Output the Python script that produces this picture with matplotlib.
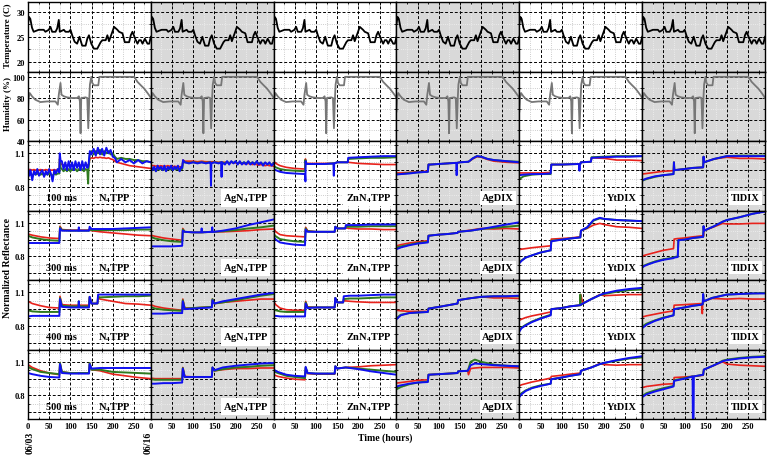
import matplotlib
matplotlib.use("Agg")
import matplotlib.pyplot as plt
from matplotlib.ticker import MultipleLocator, FixedLocator, FuncFormatter

plt.rcParams['font.family'] = ['Liberation Serif', 'DejaVu Serif']
plt.rcParams['font.weight'] = 'bold'
plt.rcParams['mathtext.fontset'] = 'custom'
plt.rcParams['mathtext.rm'] = 'Liberation Serif:bold'
plt.rcParams['mathtext.default'] = 'rm'

samples = ['N$_4$TPP', 'AgN$_4$TPP', 'ZnN$_4$TPP', 'AgDIX', 'YtDIX', 'TlDIX']
exposures = ['100 ms', '300 ms', '400 ms', '500 ms']

# environment (same for every sample)
temp_t = [0, 2.4, 5.5, 9.5, 13.4, 25.3, 37.2, 41.1, 49, 53, 57, 65, 69, 72.7, 75, 84.6, 88.5,
          96.4, 100.4, 104.3, 110, 116, 121.7, 124, 128, 136, 140, 143.9, 149.4, 155.7, 163.6,
          171.5, 175.5, 183.4, 187.4, 191.3, 199.2, 203.2, 211, 215, 223, 228.5, 238.7, 242.7,
          246.6, 254.5, 258.5, 262.5, 266.4, 270.4, 275.9, 282.2, 286.2, 290]
temp_c = [27.6, 29.0, 28.6, 26.8, 26.0, 26.4, 26.4, 26.0, 26.4, 27.0, 26.0, 26.0, 26.7, 28.4, 26.0,
          26.4, 26.0, 26.0, 26.4, 25.3, 24.0, 23.6, 25.0, 24.3, 23.2, 23.2, 24.6, 25.3, 23.6, 22.6,
          22.6, 23.9, 24.3, 24.3, 25.3, 24.1, 26.0, 27.0, 26.4, 26.0, 25.7, 23.9, 23.9, 25.3, 26.0,
          24.3, 23.6, 24.3, 24.3, 23.6, 24.6, 23.6, 23.6, 25.0]
hum_t = [0, 1.6, 4, 9.5, 17.4, 29.2, 45, 64.8, 70.4, 72.7, 76.7, 79, 84.6, 92.5, 104.3, 116.2,
         120.2, 122.5, 124.1, 125.7, 136, 140, 142.3, 144.7, 146.2, 149.4, 151.8, 155.7, 166,
         168.4, 250.6, 258.5, 266.4, 274.3, 282.2, 287.7, 290]
hum_pct = [67.6, 80.2, 84.9, 81.8, 78.6, 76.4, 77, 77, 73.9, 83.3, 94.3, 83.3, 81.8, 80.8, 80.2,
           80.2, 81.8, 77, 47.2, 80.2, 80.8, 80.2, 51.9, 80.2, 92.8, 100, 94.3, 92.1, 92.1, 100,
           100, 95.3, 92.1, 89, 84.9, 81.8, 80.2]

# ---- N4TPP ----
t_n4tpp_100 = [0, 3, 6, 10, 14, 18, 22, 26, 30, 34, 38, 42, 46, 50, 54, 58, 62, 66, 70, 74,
               75, 77,
               80, 84, 88, 92, 96, 100, 104, 108, 112, 116, 120, 124, 128, 132, 136, 140,
               142, 143,
               146, 150, 155, 160, 165, 170, 175, 180, 185, 190, 195, 200,
               205, 210, 220, 230, 240, 250, 260, 270, 280, 290]
r_n4tpp_100 = [0.96, 0.955, 0.955, 0.95, 0.955, 0.95, 0.955, 0.95, 0.955, 0.95, 0.95, 0.955, 0.95, 0.955, 0.95, 0.95, 0.955, 0.95, 0.95, 0.95,
               1.08, 1.01,
               1.0, 0.995, 1.0, 0.99, 1.0, 0.995, 1.0, 0.99, 0.995, 1.0, 0.99, 0.995, 1.0, 0.99, 0.995, 0.99,
               1.0, 1.0,
               1.05, 1.06, 1.055, 1.065, 1.06, 1.065, 1.06, 1.06, 1.055, 1.06, 1.05, 1.045,
               1.03, 1.02, 1.01, 1.0, 0.99, 0.985, 0.98, 0.975, 0.97, 0.965]
g_n4tpp_100 = [0.92, 0.91, 0.92, 0.90, 0.92, 0.91, 0.92, 0.91, 0.91, 0.92, 0.90, 0.92, 0.91, 0.92, 0.91, 0.90, 0.92, 0.91, 0.92, 0.92,
               1.05, 0.97,
               0.96, 0.94, 0.96, 0.94, 0.96, 0.94, 0.96, 0.95, 0.96, 0.94, 0.96, 0.95, 0.96, 0.94, 0.96, 0.95,
               0.83, 0.96,
               1.10, 1.12, 1.09, 1.12, 1.10, 1.13, 1.09, 1.12, 1.10, 1.12, 1.09, 1.10,
               1.07, 1.05, 1.06, 1.05, 1.05, 1.04, 1.04, 1.03, 1.03, 1.02]
b_n4tpp_100 = [0.96, 0.90, 0.95, 0.86, 0.94, 0.91, 0.96, 0.90, 0.93, 0.95, 0.89, 0.94, 0.91, 0.96, 0.92, 0.85, 0.95, 0.92, 0.96, 0.93,
               1.10, 1.03,
               1.03, 0.96, 1.02, 0.95, 1.03, 0.96, 1.02, 0.95, 1.03, 0.97, 1.02, 0.95, 1.03, 0.96, 1.02, 0.97,
               0.98, 1.0,
               1.12, 1.09, 1.14, 1.08, 1.15, 1.09, 1.14, 1.08, 1.15, 1.10, 1.13, 1.07,
               1.06, 1.02, 1.05, 1.02, 1.04, 1.01, 1.04, 1.01, 1.03, 1.02]

t_n4tpp_300 = [0, 10, 30, 50, 74, 75.5, 80, 100, 119, 120, 121, 144, 145.5, 150, 170, 200, 230, 260, 290]
r_n4tpp_300 = [1.0, 0.99, 0.975, 0.965, 0.96, 1.07, 1.04, 1.035, 1.035, 1.035, 1.035, 1.035, 1.04, 1.03, 1.02, 1.01, 1.0, 0.99, 0.985]
g_n4tpp_300 = [0.985, 0.97, 0.955, 0.945, 0.94, 1.06, 1.035, 1.03, 1.03, 1.03, 1.03, 1.03, 1.045, 1.035, 1.035, 1.035, 1.035, 1.04, 1.04]
b_n4tpp_300 = [0.92, 0.92, 0.92, 0.92, 0.92, 1.05, 1.03, 1.03, 1.03, 1.06, 1.03, 1.03, 1.065, 1.045, 1.045, 1.045, 1.05, 1.055, 1.06]

t_n4tpp_400 = [0, 10, 30, 50, 74, 75.5, 80, 100, 119, 120, 121, 144, 145.5, 150, 164, 165.5, 170, 200, 230, 260, 290]
r_n4tpp_400 = [1.02, 1.0, 0.98, 0.965, 0.96, 1.065, 0.99, 0.985, 0.985, 0.985, 0.985, 0.985, 1.06, 1.0, 1.0, 1.05, 1.04, 1.02, 1.0, 0.995, 0.985]
g_n4tpp_400 = [0.94, 0.93, 0.925, 0.925, 0.925, 1.05, 0.98, 0.975, 0.975, 1.02, 0.975, 0.975, 1.06, 1.0, 1.0, 1.06, 1.055, 1.06, 1.065, 1.065, 1.07]
b_n4tpp_400 = [0.885, 0.89, 0.89, 0.89, 0.89, 1.04, 0.97, 0.965, 0.965, 1.02, 0.965, 0.965, 1.06, 1.0, 1.0, 1.08, 1.08, 1.08, 1.08, 1.08, 1.08]

t_n4tpp_500 = [0, 10, 30, 50, 74, 75.5, 80, 100, 119, 120, 121, 144, 145.5, 150, 170, 200, 230, 260, 290]
r_n4tpp_500 = [1.075, 1.05, 1.02, 1.0, 0.985, 1.09, 1.01, 1.0, 1.0, 1.0, 1.0, 1.0, 1.09, 1.03, 1.02, 0.99, 0.975, 0.96, 0.95]
g_n4tpp_500 = [1.055, 1.035, 1.01, 1.0, 0.99, 1.09, 1.01, 1.0, 1.0, 1.0, 1.0, 1.0, 1.09, 1.03, 1.03, 1.01, 1.005, 1.0, 0.995]
b_n4tpp_500 = [1.0, 0.99, 0.975, 0.965, 0.96, 1.08, 1.0, 0.995, 0.995, 1.0, 0.995, 0.995, 1.08, 1.04, 1.045, 1.045, 1.045, 1.045, 1.045]

# ---- AgN4TPP ----
t_agn4tpp_100 = [0, 4, 8, 12, 16, 20, 24, 28, 32, 36, 40, 44, 48, 52, 56, 60, 64, 68, 72, 74,
                 76, 80,
                 90, 100, 110, 120, 130, 140, 141, 142, 143, 150, 160, 166, 167, 168,
                 175, 180, 185, 190, 195, 200, 205, 210, 215, 220, 225, 230, 235, 240, 245, 250,
                 255, 260, 265, 270, 275, 280, 285, 290]
r_agn4tpp_100 = [0.995, 0.99, 0.99, 0.985, 0.99, 0.985, 0.99, 0.985, 0.985, 0.985, 0.99, 0.985, 0.985, 0.98, 0.985, 0.98, 0.985, 0.98, 0.98, 0.98,
                 1.04, 1.03,
                 1.03, 1.03, 1.025, 1.03, 1.025, 1.025, 1.025, 1.025, 1.025, 1.025, 1.02, 1.02, 1.02, 1.02,
                 1.02, 1.02, 1.015, 1.02, 1.015, 1.015, 1.01, 1.015, 1.01, 1.01, 1.005, 1.01, 1.005, 1.0, 1.005, 1.0,
                 0.995, 1.0, 0.995, 0.99, 0.995, 0.99, 0.99, 0.985]
g_agn4tpp_100 = [0.96, 0.95, 0.965, 0.94, 0.96, 0.955, 0.965, 0.95, 0.96, 0.945, 0.965, 0.955, 0.96, 0.95, 0.965, 0.955, 0.96, 0.945, 0.96, 0.96,
                 1.03, 1.02,
                 1.015, 1.02, 1.015, 1.02, 1.015, 1.02, 1.015, 1.015, 1.015, 1.02, 1.015, 1.02, 1.015, 1.02,
                 1.01, 1.025, 1.01, 1.025, 1.015, 1.025, 1.01, 1.02, 1.01, 1.02, 1.01, 1.025, 1.01, 1.02, 1.01, 1.02,
                 1.01, 1.015, 1.005, 1.015, 1.005, 1.01, 1.0, 1.005]
b_agn4tpp_100 = [0.99, 0.95, 0.98, 0.94, 0.99, 0.96, 0.98, 0.95, 0.99, 0.94, 0.98, 0.96, 0.99, 0.95, 0.98, 0.96, 0.99, 0.94, 0.98, 0.97,
                 1.04, 1.02,
                 1.01, 1.02, 1.01, 1.02, 1.01, 1.02, 1.01, 0.81, 1.01, 1.02, 1.01, 1.02, 0.89, 1.02,
                 1.00, 1.03, 1.00, 1.03, 1.01, 1.03, 1.00, 1.03, 1.00, 1.02, 1.00, 1.03, 1.00, 1.02, 1.00, 1.03,
                 1.00, 1.02, 0.99, 1.02, 1.00, 1.02, 0.99, 1.01]

t_agn4tpp_300 = [0, 10, 30, 50, 74, 75.5, 80, 100, 119, 120, 121, 144, 145, 146, 150, 170, 200, 230, 260, 290]
r_agn4tpp_300 = [0.99, 0.98, 0.965, 0.955, 0.945, 1.05, 1.02, 1.015, 1.015, 1.015, 1.015, 1.02, 1.02, 1.02, 1.02, 1.02, 1.025, 1.03, 1.04, 1.045]
g_agn4tpp_300 = [0.975, 0.96, 0.945, 0.935, 0.93, 1.04, 1.02, 1.015, 1.015, 1.015, 1.015, 1.02, 1.02, 1.02, 1.02, 1.025, 1.035, 1.05, 1.06, 1.075]
b_agn4tpp_300 = [0.89, 0.89, 0.89, 0.89, 0.895, 1.03, 1.02, 1.015, 1.015, 1.05, 1.015, 1.02, 1.06, 1.02, 1.02, 1.03, 1.05, 1.08, 1.105, 1.13]

t_agn4tpp_400 = [0, 10, 30, 50, 74, 75.5, 80, 100, 120, 144, 145.5, 150, 170, 200, 230, 260, 290]
r_agn4tpp_400 = [0.99, 0.975, 0.96, 0.95, 0.94, 1.04, 0.96, 0.96, 0.965, 0.97, 1.04, 1.0, 1.01, 1.02, 1.03, 1.04, 1.04]
g_agn4tpp_400 = [0.97, 0.955, 0.945, 0.94, 0.935, 1.03, 0.955, 0.96, 0.965, 0.97, 1.04, 1.0, 1.01, 1.03, 1.05, 1.07, 1.085]
b_agn4tpp_400 = [0.91, 0.91, 0.91, 0.915, 0.915, 1.02, 0.95, 0.955, 0.96, 0.965, 1.03, 1.0, 1.02, 1.04, 1.06, 1.08, 1.095]

t_agn4tpp_500 = [0, 10, 30, 50, 74, 75.5, 80, 100, 120, 144, 145.5, 150, 170, 200, 230, 260, 290]
r_agn4tpp_500 = [0.955, 0.95, 0.95, 0.95, 0.95, 1.05, 0.97, 0.965, 0.965, 0.965, 1.05, 1.02, 1.03, 1.04, 1.04, 1.045, 1.045]
g_agn4tpp_500 = [0.945, 0.94, 0.94, 0.94, 0.94, 1.045, 0.965, 0.965, 0.965, 0.965, 1.05, 1.02, 1.035, 1.05, 1.055, 1.065, 1.07]
b_agn4tpp_500 = [0.905, 0.905, 0.91, 0.91, 0.915, 1.04, 0.965, 0.965, 0.965, 0.965, 1.05, 1.025, 1.05, 1.065, 1.075, 1.085, 1.09]

# ---- ZnN4TPP ----
t_znn4tpp_100 = [0, 5, 15, 30, 50, 74, 75, 75.5, 76, 80, 100, 120, 141, 142, 143, 150, 170, 175, 176, 200, 230, 260, 290]
r_znn4tpp_100 = [1.03, 1.01, 0.99, 0.975, 0.965, 0.96, 1.05, 1.03, 1.015, 1.01, 1.01, 1.01, 1.01, 1.01, 1.01, 1.02, 1.02, 1.02, 1.02, 1.01, 1.005, 1.0, 1.0]
g_znn4tpp_100 = [0.99, 0.975, 0.96, 0.95, 0.945, 0.94, 1.04, 1.02, 1.01, 1.005, 1.005, 1.005, 1.01, 1.01, 1.01, 1.02, 1.02, 1.02, 1.05, 1.055, 1.06, 1.06, 1.065]
b_znn4tpp_100 = [0.96, 0.95, 0.935, 0.925, 0.92, 0.915, 0.85, 1.03, 1.01, 1.005, 1.005, 1.005, 1.01, 0.90, 1.01, 1.02, 1.02, 1.02, 1.06, 1.065, 1.07, 1.075, 1.075]

t_znn4tpp_300 = [0, 5, 15, 30, 50, 74, 75.5, 80, 100, 120, 144, 145.5, 150, 169, 170.5, 180, 200, 230, 260, 290]
r_znn4tpp_300 = [1.05, 1.02, 0.995, 0.985, 0.98, 0.975, 1.06, 1.03, 1.02, 1.02, 1.02, 1.065, 1.05, 1.05, 1.055, 1.05, 1.045, 1.045, 1.04, 1.04]
g_znn4tpp_300 = [1.0, 0.98, 0.955, 0.945, 0.935, 0.93, 1.05, 1.025, 1.02, 1.02, 1.02, 1.065, 1.05, 1.05, 1.065, 1.065, 1.065, 1.07, 1.07, 1.07]
b_znn4tpp_300 = [0.975, 0.95, 0.925, 0.915, 0.905, 0.90, 1.04, 1.02, 1.02, 1.02, 1.02, 1.065, 1.05, 1.05, 1.08, 1.08, 1.08, 1.085, 1.085, 1.085]

t_znn4tpp_400 = [0, 5, 15, 30, 50, 74, 75.5, 80, 100, 120, 144, 145.5, 150, 164, 165.5, 180, 200, 230, 260, 290]
r_znn4tpp_400 = [1.02, 0.99, 0.96, 0.945, 0.94, 0.94, 1.02, 0.97, 0.965, 0.965, 0.965, 1.05, 1.01, 1.01, 1.025, 1.02, 1.015, 1.01, 1.01, 1.01]
g_znn4tpp_400 = [0.95, 0.94, 0.93, 0.925, 0.925, 0.925, 1.01, 0.965, 0.965, 0.965, 0.965, 1.05, 1.01, 1.01, 1.04, 1.045, 1.045, 1.05, 1.055, 1.055]
b_znn4tpp_400 = [0.89, 0.89, 0.885, 0.885, 0.885, 0.885, 1.0, 0.96, 0.965, 0.965, 0.965, 1.05, 1.01, 1.01, 1.065, 1.07, 1.07, 1.075, 1.08, 1.08]

t_znn4tpp_500 = [0, 10, 30, 50, 74, 75.5, 80, 100, 120, 144, 145.5, 150, 170, 200, 230, 260, 290]
r_znn4tpp_500 = [0.985, 0.97, 0.955, 0.945, 0.94, 1.045, 0.995, 0.99, 0.99, 0.99, 1.06, 1.04, 1.05, 1.055, 1.065, 1.07, 1.075]
g_znn4tpp_500 = [1.015, 1.0, 0.975, 0.965, 0.955, 1.05, 1.0, 0.995, 0.995, 0.995, 1.06, 1.04, 1.05, 1.04, 1.03, 1.02, 1.01]
b_znn4tpp_500 = [1.03, 1.01, 0.985, 0.975, 0.97, 1.055, 1.0, 0.995, 0.995, 0.995, 1.06, 1.04, 1.05, 1.035, 1.015, 1.0, 0.985]

# ---- AgDIX ----
t_agdix_100 = [0, 10, 30, 50, 74, 75.5, 80, 100, 120, 141, 142, 143, 150, 170, 180, 190, 200, 215, 230, 260, 290]
r_agdix_100 = [0.925, 0.925, 0.93, 0.935, 0.94, 1.0, 1.0, 1.005, 1.01, 1.015, 1.015, 1.015, 1.02, 1.025, 1.05, 1.07, 1.065, 1.045, 1.03, 1.02, 1.015]
g_agdix_100 = [0.915, 0.915, 0.925, 0.93, 0.935, 1.0, 1.0, 1.005, 1.01, 1.015, 1.015, 1.015, 1.02, 1.025, 1.055, 1.075, 1.07, 1.05, 1.04, 1.03, 1.025]
b_agdix_100 = [0.91, 0.915, 0.92, 0.93, 0.935, 1.0, 1.0, 1.005, 1.01, 1.015, 0.905, 1.015, 1.02, 1.025, 1.055, 1.075, 1.07, 1.05, 1.04, 1.03, 1.02]

t_agdix_300 = [0, 10, 30, 50, 74, 75.5, 100, 120, 144, 145.5, 175, 200, 230, 260, 290]
r_agdix_300 = [0.895, 0.905, 0.92, 0.93, 0.94, 0.985, 0.995, 1.0, 1.01, 1.02, 1.035, 1.05, 1.045, 1.05, 1.045]
g_agdix_300 = [0.88, 0.89, 0.905, 0.92, 0.93, 0.985, 0.995, 1.0, 1.01, 1.02, 1.03, 1.045, 1.055, 1.065, 1.075]
b_agdix_300 = [0.865, 0.88, 0.9, 0.915, 0.925, 0.985, 0.995, 1.0, 1.01, 1.02, 1.03, 1.045, 1.065, 1.085, 1.105]

t_agdix_400 = [0, 10, 30, 50, 74, 75.5, 100, 144, 145.5, 170, 200, 230, 260, 290]
r_agdix_400 = [0.94, 0.935, 0.93, 0.93, 0.93, 0.955, 0.97, 1.0, 1.03, 1.045, 1.06, 1.05, 1.05, 1.045]
g_agdix_400 = [0.87, 0.9, 0.915, 0.92, 0.925, 0.955, 0.97, 1.0, 1.03, 1.045, 1.06, 1.065, 1.065, 1.065]
b_agdix_400 = [0.86, 0.895, 0.915, 0.92, 0.925, 0.955, 0.97, 1.0, 1.03, 1.045, 1.06, 1.065, 1.065, 1.07]

t_agdix_500 = [0, 10, 30, 50, 74, 75.5, 100, 144, 145.5, 168, 170, 175, 185, 200, 230, 260, 290]
r_agdix_500 = [0.91, 0.915, 0.925, 0.935, 0.94, 0.985, 0.99, 1.0, 1.015, 1.02, 0.985, 1.04, 1.045, 1.05, 1.05, 1.05, 1.045]
g_agdix_500 = [0.855, 0.875, 0.9, 0.915, 0.925, 0.985, 0.99, 1.0, 1.015, 1.02, 1.04, 1.1, 1.12, 1.1, 1.075, 1.065, 1.06]
b_agdix_500 = [0.88, 0.89, 0.905, 0.915, 0.92, 0.985, 0.99, 1.0, 1.015, 1.02, 1.03, 1.07, 1.085, 1.08, 1.07, 1.065, 1.06]

# ---- YtDIX ----
t_ytdix_100 = [0, 10, 30, 50, 74, 75.5, 100, 141, 142, 143, 144, 145.5, 169, 170.5, 200, 230, 260, 290]
r_ytdix_100 = [0.925, 0.925, 0.925, 0.925, 0.93, 1.0, 1.0, 1.005, 1.005, 1.005, 1.005, 1.02, 1.025, 1.06, 1.055, 1.04, 1.04, 1.035]
g_ytdix_100 = [0.87, 0.895, 0.91, 0.915, 0.915, 1.0, 1.0, 1.005, 1.005, 1.005, 1.005, 1.02, 1.025, 1.065, 1.07, 1.075, 1.075, 1.075]
b_ytdix_100 = [0.905, 0.91, 0.915, 0.915, 0.92, 1.0, 1.0, 1.005, 0.945, 1.005, 1.005, 1.02, 1.025, 1.06, 1.065, 1.07, 1.07, 1.075]

t_ytdix_300 = [0, 5, 15, 30, 50, 74, 75.5, 100, 120, 144, 145.5, 160, 175, 190, 200, 230, 260, 290]
r_ytdix_300 = [0.86, 0.865, 0.87, 0.878, 0.886, 0.895, 0.955, 0.96, 0.965, 0.975, 1.03, 1.05, 1.08, 1.095, 1.085, 1.065, 1.06, 1.05]
g_ytdix_300 = [0.745, 0.765, 0.79, 0.81, 0.835, 0.855, 0.94, 0.95, 0.96, 0.97, 1.03, 1.055, 1.12, 1.14, 1.135, 1.125, 1.12, 1.115]
b_ytdix_300 = [0.74, 0.76, 0.79, 0.81, 0.835, 0.855, 0.935, 0.95, 0.96, 0.97, 1.03, 1.06, 1.125, 1.145, 1.135, 1.125, 1.12, 1.115]

t_ytdix_400 = [0, 5, 15, 30, 50, 74, 75.5, 100, 120, 143, 144, 145, 150, 170, 190, 200, 230, 260, 290]
r_ytdix_400 = [0.85, 0.86, 0.875, 0.89, 0.905, 0.925, 0.95, 0.96, 0.975, 0.985, 0.985, 1.08, 1.0, 1.04, 1.08, 1.07, 1.075, 1.08, 1.08]
g_ytdix_400 = [0.76, 0.785, 0.81, 0.84, 0.87, 0.9, 0.95, 0.96, 0.975, 0.985, 1.08, 0.985, 1.0, 1.04, 1.075, 1.085, 1.105, 1.12, 1.125]
b_ytdix_400 = [0.75, 0.78, 0.805, 0.835, 0.865, 0.895, 0.95, 0.96, 0.975, 0.985, 0.985, 0.99, 1.0, 1.04, 1.075, 1.09, 1.115, 1.13, 1.14]

t_ytdix_500 = [0, 5, 15, 30, 50, 74, 75.5, 100, 120, 144, 145.5, 170, 190, 200, 230, 260, 290]
r_ytdix_500 = [0.885, 0.895, 0.905, 0.92, 0.935, 0.955, 0.97, 0.98, 0.99, 1.0, 1.02, 1.05, 1.085, 1.075, 1.07, 1.075, 1.075]
g_ytdix_500 = [0.80, 0.82, 0.845, 0.87, 0.89, 0.905, 0.945, 0.96, 0.975, 0.99, 1.02, 1.05, 1.08, 1.09, 1.11, 1.13, 1.14]
b_ytdix_500 = [0.785, 0.81, 0.84, 0.865, 0.885, 0.905, 0.945, 0.96, 0.975, 0.99, 1.02, 1.05, 1.08, 1.09, 1.115, 1.135, 1.15]

# ---- TlDIX ----
t_tldix_100 = [0, 10, 30, 50, 74, 75, 76, 100, 120, 144, 145, 146, 170, 200, 230, 260, 290]
r_tldix_100 = [0.915, 0.92, 0.93, 0.94, 0.945, 1.02, 0.95, 0.96, 0.97, 0.975, 1.07, 1.02, 1.05, 1.065, 1.055, 1.055, 1.05]
g_tldix_100 = [0.855, 0.87, 0.89, 0.905, 0.915, 1.02, 0.95, 0.96, 0.97, 0.975, 1.07, 1.02, 1.05, 1.075, 1.08, 1.08, 1.08]
b_tldix_100 = [0.86, 0.875, 0.895, 0.905, 0.915, 1.02, 0.95, 0.96, 0.97, 0.975, 1.07, 1.02, 1.05, 1.075, 1.075, 1.075, 1.075]

t_tldix_300 = [0, 5, 15, 30, 50, 74, 75.5, 84, 85.5, 100, 120, 144, 145, 146, 170, 190, 200, 230, 260, 290]
r_tldix_300 = [0.80, 0.81, 0.82, 0.835, 0.855, 0.87, 0.955, 0.96, 0.96, 0.965, 0.975, 0.985, 0.985, 1.03, 1.065, 1.095, 1.09, 1.09, 1.095, 1.095]
g_tldix_300 = [0.705, 0.72, 0.735, 0.755, 0.775, 0.79, 0.795, 0.80, 0.945, 0.95, 0.965, 0.975, 1.07, 1.03, 1.07, 1.11, 1.125, 1.15, 1.18, 1.205]
b_tldix_300 = [0.70, 0.715, 0.73, 0.75, 0.77, 0.785, 0.79, 0.795, 0.945, 0.95, 0.965, 0.975, 1.07, 1.03, 1.07, 1.11, 1.125, 1.15, 1.18, 1.2]

t_tldix_400 = [0, 10, 30, 50, 74, 75.5, 100, 120, 141, 142, 143, 144, 145.5, 165, 200, 230, 260, 290]
r_tldix_400 = [0.88, 0.89, 0.905, 0.92, 0.935, 0.985, 0.99, 0.995, 1.0, 0.91, 1.0, 1.005, 1.02, 1.045, 1.04, 1.045, 1.04, 1.04]
g_tldix_400 = [0.795, 0.82, 0.85, 0.875, 0.895, 0.95, 0.965, 0.98, 0.99, 0.995, 0.995, 1.08, 1.02, 1.05, 1.08, 1.085, 1.09, 1.095]
b_tldix_400 = [0.78, 0.81, 0.845, 0.87, 0.895, 0.95, 0.965, 0.98, 0.99, 0.995, 0.995, 1.085, 1.02, 1.05, 1.08, 1.085, 1.09, 1.09]

t_tldix_500 = [0, 10, 30, 50, 74, 75.5, 100, 119, 120, 121, 122, 144, 145.5, 170, 190, 200, 230, 260, 290]
r_tldix_500 = [0.87, 0.88, 0.89, 0.9, 0.905, 0.96, 0.965, 0.97, 0.97, 0.97, 0.97, 0.98, 1.03, 1.07, 1.1, 1.08, 1.07, 1.065, 1.06]
g_tldix_500 = [0.795, 0.82, 0.845, 0.865, 0.885, 0.935, 0.955, 0.97, 0.97, 0.97, 0.97, 0.985, 1.03, 1.07, 1.11, 1.12, 1.135, 1.145, 1.15]
b_tldix_500 = [0.785, 0.81, 0.835, 0.855, 0.88, 0.93, 0.95, 0.97, 0.4, 0.4, 0.97, 0.985, 1.03, 1.07, 1.105, 1.115, 1.13, 1.14, 1.145]

panels = [
    [(t_n4tpp_100, r_n4tpp_100, g_n4tpp_100, b_n4tpp_100),
     (t_n4tpp_300, r_n4tpp_300, g_n4tpp_300, b_n4tpp_300),
     (t_n4tpp_400, r_n4tpp_400, g_n4tpp_400, b_n4tpp_400),
     (t_n4tpp_500, r_n4tpp_500, g_n4tpp_500, b_n4tpp_500)],
    [(t_agn4tpp_100, r_agn4tpp_100, g_agn4tpp_100, b_agn4tpp_100),
     (t_agn4tpp_300, r_agn4tpp_300, g_agn4tpp_300, b_agn4tpp_300),
     (t_agn4tpp_400, r_agn4tpp_400, g_agn4tpp_400, b_agn4tpp_400),
     (t_agn4tpp_500, r_agn4tpp_500, g_agn4tpp_500, b_agn4tpp_500)],
    [(t_znn4tpp_100, r_znn4tpp_100, g_znn4tpp_100, b_znn4tpp_100),
     (t_znn4tpp_300, r_znn4tpp_300, g_znn4tpp_300, b_znn4tpp_300),
     (t_znn4tpp_400, r_znn4tpp_400, g_znn4tpp_400, b_znn4tpp_400),
     (t_znn4tpp_500, r_znn4tpp_500, g_znn4tpp_500, b_znn4tpp_500)],
    [(t_agdix_100, r_agdix_100, g_agdix_100, b_agdix_100),
     (t_agdix_300, r_agdix_300, g_agdix_300, b_agdix_300),
     (t_agdix_400, r_agdix_400, g_agdix_400, b_agdix_400),
     (t_agdix_500, r_agdix_500, g_agdix_500, b_agdix_500)],
    [(t_ytdix_100, r_ytdix_100, g_ytdix_100, b_ytdix_100),
     (t_ytdix_300, r_ytdix_300, g_ytdix_300, b_ytdix_300),
     (t_ytdix_400, r_ytdix_400, g_ytdix_400, b_ytdix_400),
     (t_ytdix_500, r_ytdix_500, g_ytdix_500, b_ytdix_500)],
    [(t_tldix_100, r_tldix_100, g_tldix_100, b_tldix_100),
     (t_tldix_300, r_tldix_300, g_tldix_300, b_tldix_300),
     (t_tldix_400, r_tldix_400, g_tldix_400, b_tldix_400),
     (t_tldix_500, r_tldix_500, g_tldix_500, b_tldix_500)],
]

W, H = 767, 456
fig, axes = plt.subplots(6, 6, figsize=(W / 100, H / 100), dpi=100)
fig.subplots_adjust(left=28 / W, right=765 / W, top=1 - 3 / H, bottom=1 - 420 / H,
                    wspace=0, hspace=0)

red, green, blue = '#e8221c', '#2f7a1f', '#1010f0'
shade = '#d9d9d9'

for col in range(6):
    for row in range(6):
        ax = axes[row, col]
        gray = col % 2 == 1
        ax.set_facecolor(shade if gray else 'white')
        ax.set_axisbelow(True)
        ax.set_xlim(0, 290)
        ax.xaxis.set_major_locator(MultipleLocator(50))
        ax.xaxis.set_minor_locator(MultipleLocator(25))

        if row == 0:
            ax.plot(temp_t, temp_c, color='black', lw=1.3)
            ax.set_ylim(18, 32)
            ax.yaxis.set_major_locator(FixedLocator([20, 25, 30]))
            ax.yaxis.set_minor_locator(FixedLocator([22.5, 27.5]))
        elif row == 1:
            ax.plot(hum_t, hum_pct, color='#777777', lw=1.3)
            ax.set_ylim(40, 105)
            ax.yaxis.set_major_locator(FixedLocator([40, 60, 80, 100]))
            ax.yaxis.set_minor_locator(FixedLocator([50, 70, 90]))
        else:
            t, r, g, b = panels[col][row - 2]
            ax.plot(t, r, color=red, lw=1.2)
            ax.plot(t, g, color=green, lw=1.4)
            ax.plot(t, b, color=blue, lw=1.4)
            ax.set_ylim(0.59, 1.21)
            ax.yaxis.set_major_locator(FixedLocator([0.65, 0.8, 0.95, 1.1]))
            ax.yaxis.set_minor_locator(FixedLocator([0.725, 0.875, 1.025, 1.175]))
            ax.yaxis.set_major_formatter(FuncFormatter(
                lambda v, p: f'{v:.1f}' if abs(v - 0.8) < 1e-6 or abs(v - 1.1) < 1e-6 else ''))
            if col == 0:
                ax.text(0.27, 0.18, exposures[row - 2], transform=ax.transAxes,
                        ha='center', va='center', fontsize=7.5, fontweight='bold')
                ax.text(0.70, 0.18, samples[col], transform=ax.transAxes,
                        ha='center', va='center', fontsize=7.5, fontweight='bold')
            else:
                ax.text(0.955, 0.18, samples[col], transform=ax.transAxes,
                        ha='right', va='center', fontsize=7.5, fontweight='bold',
                        bbox=dict(facecolor='white', edgecolor='none', pad=1.5))

        ax.grid(which='major', color='black', ls=(0, (3, 2)), lw=0.7)
        ax.grid(which='minor', color='#f2f2f2' if gray else '#bdbdbd', ls=':', lw=0.6)
        ax.tick_params(which='both', direction='in', top=True, right=True,
                       width=0.6, labelsize=6, pad=2)
        ax.tick_params(which='major', length=2.5)
        ax.tick_params(which='minor', length=1.5)
        for sp in ax.spines.values():
            sp.set_linewidth(1.0)
        if col != 0:
            ax.tick_params(labelleft=False)
        if row != 5:
            ax.tick_params(labelbottom=False)

label_x = 8 / W
fig.text(label_x, 1 - 36 / H, 'Temperature (C)', rotation=90, ha='center', va='center',
         fontsize=6.5, fontweight='bold')
fig.text(label_x, 1 - 104 / H, 'Humidity (%)', rotation=90, ha='center', va='center',
         fontsize=6.5, fontweight='bold')
fig.text(label_x, 1 - 268 / H, 'Normalized Reflectance', rotation=90, ha='center', va='center',
         fontsize=7, fontweight='bold')
fig.text(385 / W, 1 - 438 / H, 'Time (hours)', ha='center', va='center',
         fontsize=7, fontweight='bold')
fig.text(30 / W, 1 - 432 / H, '06/03', rotation=90, ha='center', va='top',
         fontsize=7, fontweight='bold')
fig.text(148 / W, 1 - 432 / H, '06/16', rotation=90, ha='center', va='top',
         fontsize=7, fontweight='bold')

fig.savefig('out.png', dpi=100)
